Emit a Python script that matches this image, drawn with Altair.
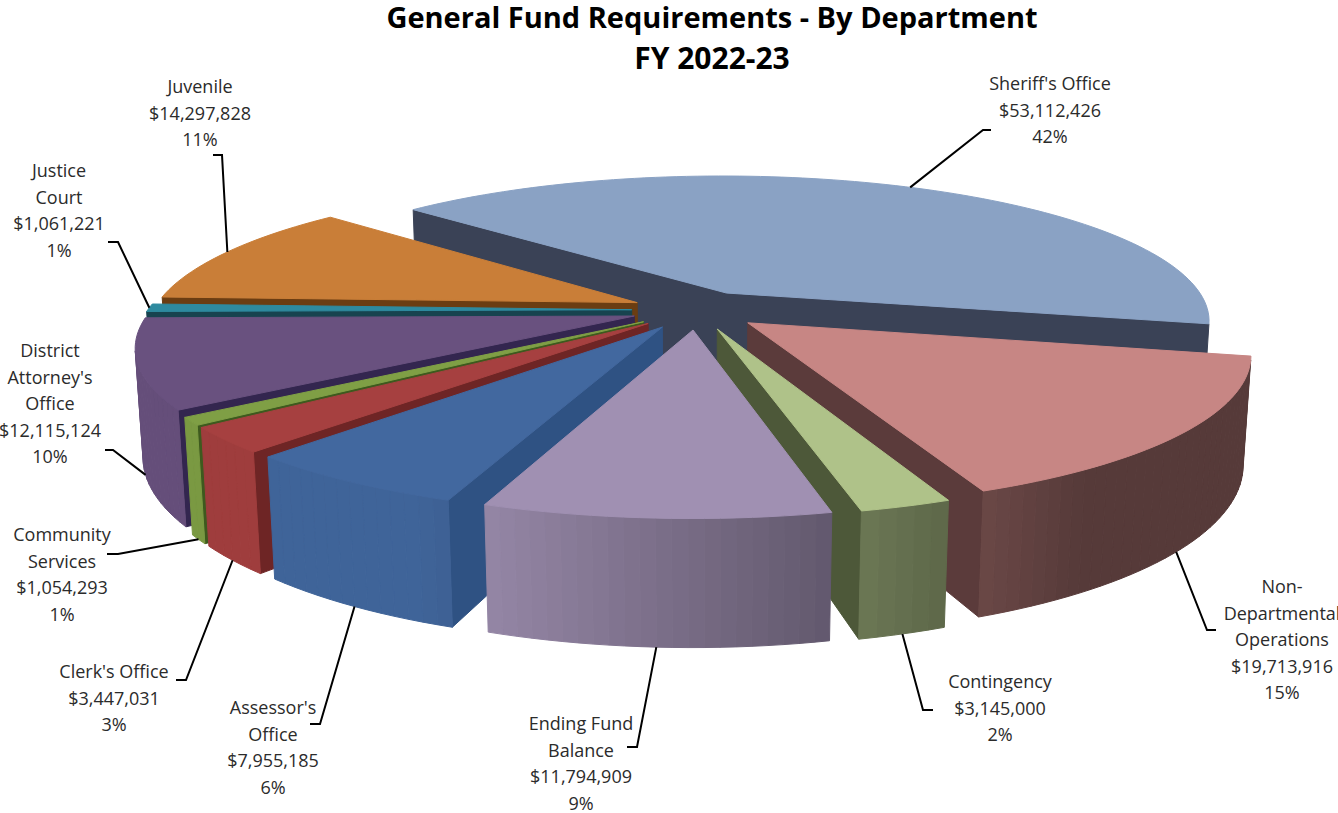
import math
import altair as alt
import pandas as pd

# Department figures, clockwise from the Sheriff's Office slice
departments = ["Sheriff's Office", "Non-Departmental Operations", "Contingency",
               "Ending Fund Balance", "Assessor's Office", "Clerk's Office",
               "Community Services", "District Attorney's Office", "Justice Court", "Juvenile"]
amounts = [53112426, 19713916, 3145000, 11794909, 7955185,
           3447031, 1054293, 12115124, 1061221, 14297828]
percents = ["42%", "15%", "2%", "9%", "6%", "3%", "1%", "10%", "1%", "11%"]
name_lines = [["Sheriff's Office"], ["Non-", "Departmental", "Operations"], ["Contingency"],
              ["Ending Fund", "Balance"], ["Assessor's", "Office"], ["Clerk's Office"],
              ["Community", "Services"], ["District", "Attorney's", "Office"],
              ["Justice", "Court"], ["Juvenile"]]

# Slice colours: top face and the flat cut faces
top_colors = ["#8aa2c4", "#c78684", "#afc289", "#a090b2", "#42689f",
              "#a64040", "#7f9f45", "#69517f", "#2e8a9f", "#c97e38"]
cut_colors = ["#3a4256", "#5b3b3b", "#4d5839", "#5d5266", "#2f5283",
              "#6e2525", "#3e5a1e", "#33264f", "#17434f", "#6b3d12"]

# Label block layout: centre x, first line y
label_x = [1050, 1282, 1000, 581, 273, 114, 62, 50, 59, 200]
label_y = [85, 588, 683, 725, 709, 673, 536, 352, 172, 88]
line_step = 26.5

# Leader lines: which rim the line leaves from, then the elbow and end of the stub
leader_rim = ["top", "bottom", "bottom", "bottom", "bottom", "bottom", "bottom", "bottom", "top", "top"]
elbow_x = [983, 1207, 923, 637, 320, 186, 118, 113, 118, 222]
elbow_y = [130, 630, 710, 747, 724, 680, 554, 450, 242, 155]
stub_x = [991, 1216, 933, 627, 310, 176, 107, 105, 108, 213]

title_lines = ["General Fund Requirements - By Department", "FY 2022-23"]

# Camera and pie solid
CX, CY = 697.0, 310.0
SCALE = 484.0
PITCH = math.radians(17.4)
DIST = 5.1
THICK = 0.23
EXPLODE = 0.135
START_DEG = -47.4
DRAW_ORDER = [0, 9, 8, 7, 1, 2, 6, 5, 4, 3]
CAM_Y, CAM_Z = DIST * math.cos(PITCH), DIST * math.sin(PITCH)


def project(px, py, pz):
    # px to the right, py toward the viewer, pz up
    yc = -py * math.sin(PITCH) + pz * math.cos(PITCH)
    zc = py * math.cos(PITCH) + pz * math.sin(PITCH)
    s = SCALE / (1 - zc / DIST)
    return CX + px * s, CY - yc * s


def faces_camera(px, py, nx, ny):
    # A vertical face is visible when its outward normal points at the camera
    return (0 - px) * nx + (CAM_Y - py) * ny > 0


def shade(hex_color, factor):
    r, g, b = (int(hex_color[i:i + 2], 16) for i in (1, 3, 5))
    return "#%02x%02x%02x" % (round(r * factor), round(g * factor), round(b * factor))


def rim_point(ang, ox, oy):
    return ox + math.sin(ang), oy - math.cos(ang)


total = sum(amounts)
spans, cursor = [], math.radians(START_DEG)
for amt in amounts:
    end = cursor + 2 * math.pi * amt / total
    spans.append((cursor, end))
    cursor = end

poly_rows = []
poly_id = 0


def add_polygon(points, color):
    global poly_id
    for k, (sx, sy) in enumerate(points):
        poly_rows.append({"x": sx, "y": sy, "pid": poly_id, "k": k, "c": color})
    poly_id += 1


for idx in DRAW_ORDER:
    a0, a1 = spans[idx]
    mid = (a0 + a1) / 2
    ox, oy = EXPLODE * math.sin(mid), -EXPLODE * math.cos(mid)
    base = top_colors[idx]
    steps = max(2, int(math.degrees(a1 - a0) / 1.5))
    angles = [a0 + (a1 - a0) * i / steps for i in range(steps + 1)]

    # Radial cut faces
    for edge, sign in ((a0, -1), (a1, 1)):
        ex, ey = rim_point(edge, ox, oy)
        if faces_camera(ox, oy, sign * math.cos(edge), sign * math.sin(edge)):
            add_polygon([project(ox, oy, 0), project(ex, ey, 0),
                         project(ex, ey, -THICK), project(ox, oy, -THICK)], cut_colors[idx])

    # Outer wall, one quad per arc step, lit from the left
    for i in range(steps):
        b0, b1 = angles[i], angles[i + 1]
        p0, p1 = rim_point(b0, ox, oy), rim_point(b1, ox, oy)
        nx = math.sin((b0 + b1) / 2)
        if not faces_camera(p0[0], p0[1], nx, -math.cos((b0 + b1) / 2)):
            continue
        factor = max(0.43, min(0.96, 0.74 - 0.55 * nx))
        add_polygon([project(p0[0], p0[1], 0), project(p1[0], p1[1], 0),
                     project(p1[0], p1[1], -THICK), project(p0[0], p0[1], -THICK)],
                    shade(base, factor))

    # Top face
    outline = [project(ox, oy, 0)] + [project(*rim_point(a, ox, oy), 0) for a in angles]
    add_polygon(outline, base)

polys = pd.DataFrame(poly_rows)

# Leader polylines start on the slice rim at its mid angle
leader_rows = []
for idx, (a0, a1) in enumerate(spans):
    mid = (a0 + a1) / 2
    ox, oy = EXPLODE * math.sin(mid), -EXPLODE * math.cos(mid)
    rx, ry = rim_point(mid, ox, oy)
    z = 0 if leader_rim[idx] == "top" else -THICK
    ax, ay = project(rx, ry, z)
    for k, (lx, ly) in enumerate([(ax, ay), (elbow_x[idx], elbow_y[idx]), (stub_x[idx], elbow_y[idx])]):
        leader_rows.append({"x": lx, "y": ly, "leader": departments[idx], "k": k})
leaders = pd.DataFrame(leader_rows)

text_rows = []
for idx, names in enumerate(name_lines):
    block = names + ["${:,}".format(amounts[idx]), percents[idx]]
    for j, line in enumerate(block):
        text_rows.append({"x": label_x[idx], "y": label_y[idx] + j * line_step, "t": line})
labels = pd.DataFrame(text_rows)

titles = pd.DataFrame({"x": [712, 712], "y": [19, 60], "t": title_lines, "s": [29, 30]})

x_enc = alt.X("x:Q", scale=alt.Scale(domain=[0, 1338], nice=False, zero=False), axis=None)
y_enc = alt.Y("y:Q", scale=alt.Scale(domain=[813, 0], nice=False, zero=False), axis=None)

pie = alt.Chart(polys).mark_line(interpolate="linear-closed", strokeWidth=1.0).encode(
    x=x_enc, y=y_enc,
    fill=alt.Fill("c:N", scale=None),
    stroke=alt.Stroke("c:N", scale=None),
    detail="pid:N",
    order="k:Q",
)

leader_lines = alt.Chart(leaders).mark_line(color="#000000", strokeWidth=2).encode(
    x=x_enc, y=y_enc, detail="leader:N", order="k:Q"
)

label_marks = alt.Chart(labels).mark_text(
    font="Open Sans", fontSize=18, color="#2b2b2b", align="center", baseline="middle"
).encode(x=x_enc, y=y_enc, text="t:N")

title_marks = alt.Chart(titles).mark_text(
    font="Open Sans", fontWeight="bold", color="#000000", align="center", baseline="middle"
).encode(x=x_enc, y=y_enc, text="t:N", size=alt.Size("s:Q", scale=None, legend=None))

chart = alt.layer(pie, leader_lines, label_marks, title_marks).properties(
    width=1338, height=813, padding=0, background="#ffffff",
    autosize=alt.AutoSizeParams(type="none")
).configure_view(stroke=None)

chart.save("out.html", embed_options={"renderer": "svg", "actions": False})
